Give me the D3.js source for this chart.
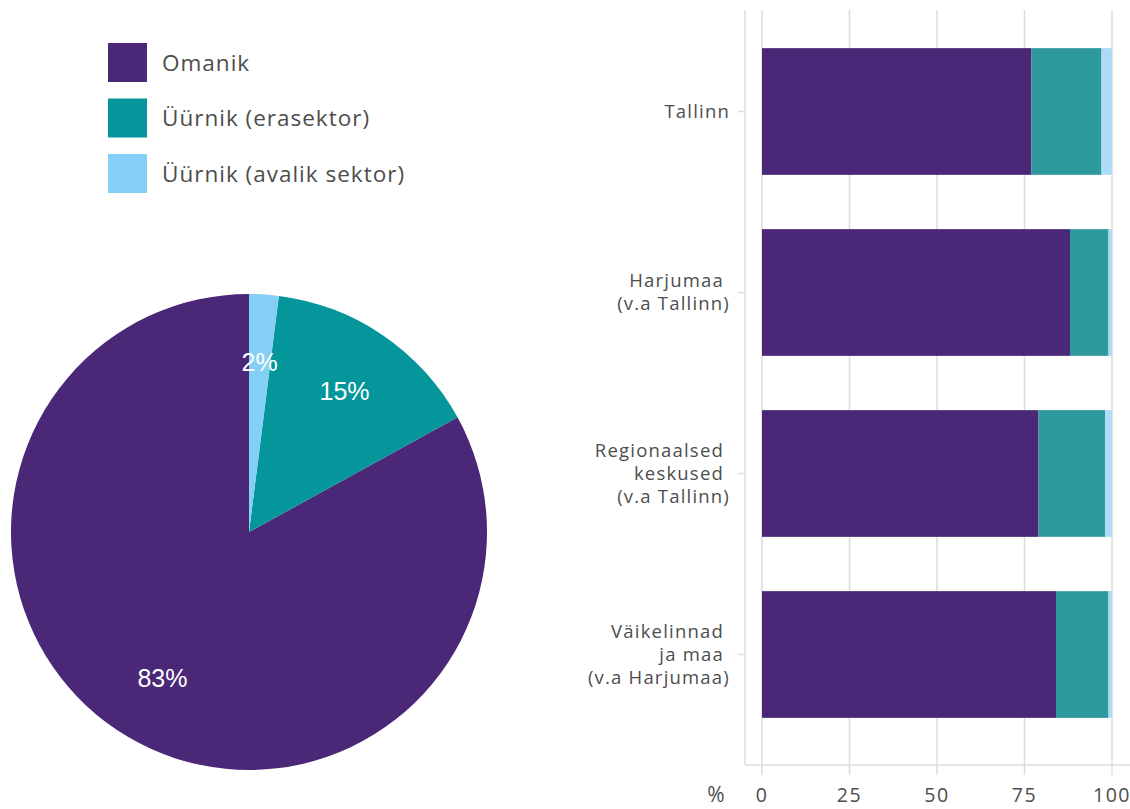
<!DOCTYPE html>
<html lang="et">
<head>
<meta charset="UTF-8"/>
<title>Omanik / üürnik</title>
<script src="https://d3js.org/d3.v7.min.js"></script>
<style>
    body { margin: 0; background: #fff; }
    text { font-family: "Open Sans", sans-serif; fill: #4d4d4d; }
    .grid line { stroke: #dcdcdc; stroke-width: 1.5px; }
</style>
</head>
<body>
<svg width="1130" height="809"></svg>
<script>
// andmed
const series = ["Omanik", "Üürnik (erasektor)", "Üürnik (avalik sektor)"];
const pieShares = [83, 15, 2];
const regions = [
    ["Tallinn"],
    ["Harjumaa ", "(v.a Tallinn)"],
    ["Regionaalsed ", "keskused ", "(v.a Tallinn)"],
    ["Väikelinnad ", "ja maa ", "(v.a Harjumaa)"]
];
const omanik = [77, 88, 79, 84];
const erasektor = [20, 11, 19, 15];
const avalik = [3, 1, 2, 1];
const xTicks = [0, 25, 50, 75, 100];

const pieColors = ["#4a2777", "#05969c", "#84cff5"];
const barColors = ["#4a2777", "#2f9a9e", "#acdcf7"];

const svg = d3.select("svg");

// legend
const legend = svg.append("g").attr("transform", "translate(108,43)");
series.forEach(function(s, i) {
    legend.append("rect")
        .attr("x", 0).attr("y", i * 55.5)
        .attr("width", 39).attr("height", 39)
        .attr("fill", pieColors[i]);
    legend.append("text")
        .attr("x", 54).attr("y", i * 55.5 + 20)
        .attr("dy", "0.35em")
        .attr("font-size", "22.5px")
        .attr("letter-spacing", "1px")
        .text(s);
});

// pie
const radius = 238;
const pg = svg.append("g").attr("transform", "translate(249,532)");
const pieData = series.map((s, i) => ({ name: s, value: pieShares[i], color: pieColors[i] }));
const pie = d3.pie().value(d => d.value).sort((a, b) => a.value - b.value);
const arc = d3.arc().innerRadius(0).outerRadius(radius);
const labelArc = d3.arc().innerRadius(170).outerRadius(170);

const slices = pg.selectAll(".slice").data(pie(pieData)).enter().append("g").attr("class", "slice");
slices.append("path")
    .attr("d", arc)
    .attr("fill", d => d.data.color);
slices.append("text")
    .attr("transform", d => "translate(" + labelArc.centroid(d) + ")")
    .attr("text-anchor", "middle")
    .attr("dy", "0.35em")
    .style("font-family", "'Liberation Sans', Arial, sans-serif")
    .style("fill", "#fff")
    .attr("font-size", "25px")
    .text(d => d.data.value + "%");

// stacked bars
const xLeft = 762, xRight = 1112, yTop = 10, yBottom = 765;
const x = d3.scaleLinear().domain([0, 100]).range([xLeft, xRight]);
const y = d3.scaleBand().domain(d3.range(regions.length)).range([21, 745])
    .paddingInner(0.3).paddingOuter(0.15);

const bg = svg.append("g");

bg.append("g").attr("class", "grid")
    .selectAll("line").data(xTicks).enter().append("line")
    .attr("x1", d => x(d)).attr("x2", d => x(d))
    .attr("y1", yTop).attr("y2", yBottom + 10);

// axes lines
bg.append("line").attr("x1", 745).attr("x2", 745).attr("y1", yTop).attr("y2", yBottom)
    .attr("stroke", "#dcdcdc").attr("stroke-width", 1.5);
bg.append("line").attr("x1", 745).attr("x2", 1130).attr("y1", yBottom).attr("y2", yBottom)
    .attr("stroke", "#dcdcdc").attr("stroke-width", 1.5);

const stackData = regions.map((r, i) => ({ i: i, omanik: omanik[i], erasektor: erasektor[i], avalik: avalik[i] }));
const stack = d3.stack().keys(["omanik", "erasektor", "avalik"]);
const layers = stack(stackData);

bg.selectAll(".layer").data(layers).enter().append("g")
    .attr("class", "layer")
    .attr("fill", (d, i) => barColors[i])
    .selectAll("rect").data(d => d).enter().append("rect")
    .attr("x", d => x(d[0]))
    .attr("width", d => x(d[1]) - x(d[0]))
    .attr("y", d => y(d.data.i))
    .attr("height", y.bandwidth());

// y ticks and labels
const yl = bg.append("g");
regions.forEach(function(lines, i) {
    const cy = y(i) + y.bandwidth() / 2;
    yl.append("line").attr("x1", 738).attr("x2", 745).attr("y1", cy).attr("y2", cy)
        .attr("stroke", "#dcdcdc").attr("stroke-width", 1.5);
    const t = yl.append("text")
        .attr("text-anchor", "end")
        .attr("font-size", "18.5px")
        .attr("letter-spacing", "1.2px")
        .attr("y", cy - (lines.length - 1) * 23 / 2);
    lines.forEach(function(l, j) {
        t.append("tspan").attr("x", 730).attr("dy", j === 0 ? "0.35em" : 23)
            .style("white-space", "pre").text(l);
    });
});

// x tick labels
bg.selectAll(".xlab").data(xTicks).enter().append("text")
    .attr("class", "xlab")
    .attr("x", d => x(d)).attr("y", 795)
    .attr("text-anchor", "middle")
    .attr("dy", "0.35em")
    .attr("font-size", "19.5px")
    .attr("letter-spacing", "1.5px")
    .text(d => d);

bg.append("text").attr("x", 716).attr("y", 795).attr("dy", "0.35em")
    .attr("text-anchor", "middle").attr("font-size", "21px").text("%");
</script>
</body>
</html>
